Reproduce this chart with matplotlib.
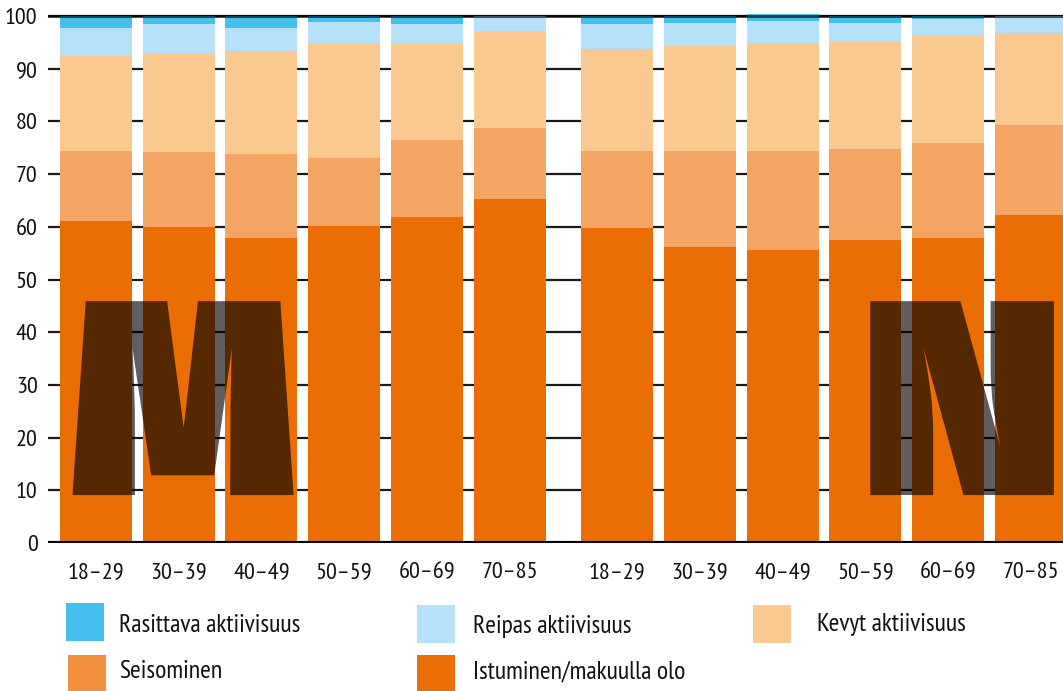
import numpy as np
import matplotlib
matplotlib.use("Agg")
import matplotlib.pyplot as plt
from matplotlib.textpath import TextPath
from matplotlib.font_manager import FontProperties
from matplotlib.patches import PathPatch, Rectangle
from matplotlib.path import Path

plt.rcParams['font.family'] = ['PT Sans Narrow', 'DejaVu Sans']

ikaryhmat = ['18–29', '30–39', '40–49', '50–59', '60–69', '70–85']

# osuudet (%) alhaalta ylos, miehet
istuminen_m = [61.1, 60.0, 57.9, 60.1, 61.9, 65.3]
seisominen_m = [13.3, 14.2, 15.9, 13.0, 14.6, 13.4]
kevyt_m = [18.0, 18.8, 19.6, 21.6, 18.2, 18.5]
reipas_m = [5.3, 5.5, 4.3, 4.2, 3.8, 2.8]
rasittava_m = [2.3, 1.5, 2.3, 1.1, 1.5, 0.0]

# naiset
istuminen_n = [59.8, 56.2, 55.6, 57.5, 57.9, 62.2]
seisominen_n = [14.6, 18.2, 18.8, 17.3, 18.0, 17.1]
kevyt_n = [19.3, 19.9, 20.5, 20.3, 20.3, 17.5]
reipas_n = [4.8, 4.4, 4.2, 3.6, 3.2, 3.2]
rasittava_n = [1.5, 1.3, 1.3, 1.3, 0.6, 0.0]

nimet = ['Istuminen/makuulla olo', 'Seisominen', 'Kevyt aktiivisuus',
         'Reipas aktiivisuus', 'Rasittava aktiivisuus']
varit = ['#EB6D06', '#F4A564', '#F9C98F', '#B5E2F9', '#45C0EE']
legend_varit = {'Seisominen': '#F28F3D'}

W, H = 1063, 691
fig = plt.figure(figsize=(W / 100, H / 100), dpi=100)
ax = fig.add_axes([48 / W, (H - 543) / H, (W - 48) / W, (543 - 14) / H])

x_m = np.arange(6)
x_n = np.arange(6) + 6.3
leveys = 0.87

sarjat_m = [istuminen_m, seisominen_m, kevyt_m, reipas_m, rasittava_m]
sarjat_n = [istuminen_n, seisominen_n, kevyt_n, reipas_n, rasittava_n]

for x, sarjat in [(x_m, sarjat_m), (x_n, sarjat_n)]:
    pohja = np.zeros(6)
    for arvot, vari in zip(sarjat, varit):
        arvot = np.array(arvot)
        ax.bar(x, arvot, leveys, bottom=pohja, color=vari, linewidth=0, zorder=2)
        pohja = pohja + arvot

ax.set_xlim(-0.58, 11.69)
ax.set_ylim(0, 100.4)
ax.set_yticks(np.arange(0, 101, 10))
ax.set_axisbelow(True)
ax.grid(axis='y', color='#1a1a1a', linewidth=1.6)
ax.grid(axis='x', visible=False)
ax.axhline(100, color='black', alpha=0.65, linewidth=2.2, zorder=5)
ax.axhline(0, color='black', linewidth=3, zorder=5)
for s in ax.spines.values():
    s.set_visible(False)

ax.set_xticks(np.concatenate([x_m, x_n]))
ax.set_xticklabels(ikaryhmat + ikaryhmat, fontsize=18.5)
ax.tick_params(axis='both', length=0, labelsize=17.5, colors='#111111')
ax.tick_params(axis='y', pad=7.5)
ax.tick_params(axis='x', pad=14)


# suuret kirjaimet M ja N puoliläpinäkyvinä pylväiden päällä
def kirjain(merkki, x0, x1, y0, y1):
    tp = TextPath((0, 0), merkki, size=100,
                  prop=FontProperties(family=['Fira Sans Extra Condensed', 'DejaVu Sans'],
                                      weight='black'))
    v = tp.vertices.copy()
    ext = tp.get_extents()
    v[:, 0] = x0 + (v[:, 0] - ext.x0) / ext.width * (x1 - x0)
    v[:, 1] = y0 + (v[:, 1] - ext.y0) / ext.height * (y1 - y0)
    ax.add_patch(PathPatch(Path(v, tp.codes), facecolor='black', edgecolor='none',
                           alpha=0.63, zorder=4))


kirjain('M', -0.284, 2.389, 9.1, 45.9)
kirjain('N', 9.36, 11.58, 9.1, 45.9)

# selite
selite = [
    ('Rasittava aktiivisuus', 66, 603, 119, 625),
    ('Reipas aktiivisuus', 417, 605, 473, 627),
    ('Kevyt aktiivisuus', 753, 605, 817, 625),
    ('Seisominen', 68, 655, 119, 672),
    ('Istuminen/makuulla olo', 417, 655, 473, 672),
]
for nimi, bx, by, tx, ty in selite:
    vari = legend_varit.get(nimi, varit[nimet.index(nimi)])
    fig.add_artist(Rectangle((bx / W, 1 - (by + 38) / H), 38 / W, 38 / H,
                             transform=fig.transFigure, facecolor=vari,
                             edgecolor='none'))
    fig.text(tx / W, 1 - ty / H, nimi, fontsize=18.5, color='#111111',
             ha='left', va='center')

fig.savefig('out.png', dpi=100)
